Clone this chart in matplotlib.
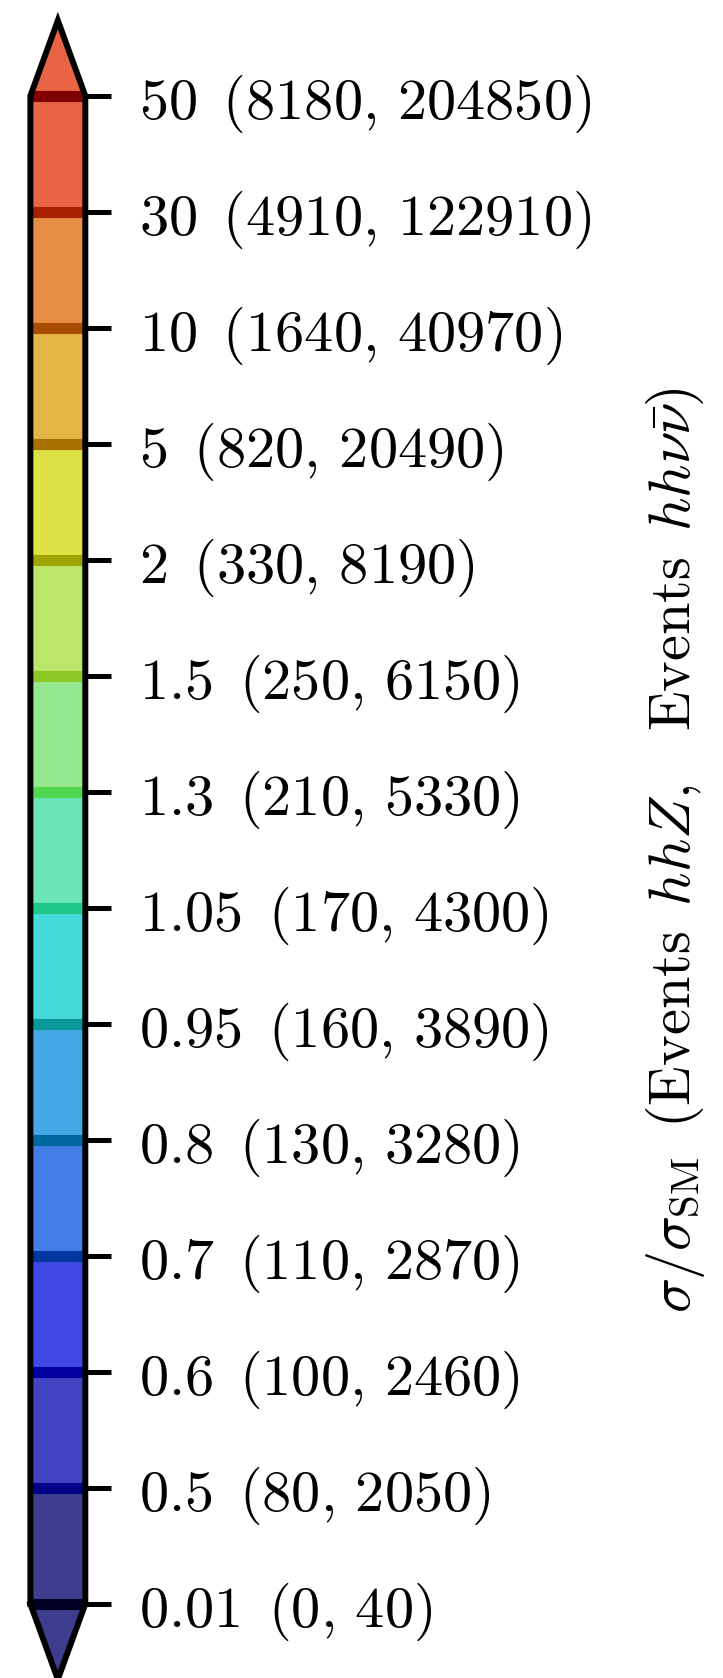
import matplotlib
matplotlib.use('Agg')
import matplotlib.pyplot as plt
from matplotlib.colors import ListedColormap, BoundaryNorm
from matplotlib.cm import ScalarMappable

plt.rcParams['font.family'] = 'serif'
plt.rcParams['font.serif'] = ['cmr10']
plt.rcParams['mathtext.fontset'] = 'cm'
plt.rcParams['axes.unicode_minus'] = False

# contour levels of sigma/sigma_SM and the matching event counts
levels = [0.01, 0.5, 0.6, 0.7, 0.8, 0.95, 1.05, 1.3, 1.5, 2, 5, 10, 30, 50]
events_hhz = [0, 80, 100, 110, 130, 160, 170, 210, 250, 330, 820, 1640, 4910, 8180]
events_hhnunu = [40, 2050, 2460, 2870, 3280, 3890, 4300, 5330, 6150, 8190,
                 20490, 40970, 122910, 204850]

# filled bands between levels (bottom -> top) and the contour line colours
fill_colors = ['#3e3e8e', '#4242c2', '#4149e4', '#427ee6', '#44a8e6',
               '#44dadc', '#6ce6b6', '#96e88e', '#bce66a', '#dee244',
               '#e4b646', '#e68e44', '#e86444']
line_colors = ['#000024', '#000088', '#0000a0', '#0038a0', '#0068a0',
               '#089898', '#20c88a', '#50d850', '#8cc828', '#a0a400',
               '#a87000', '#a84c00', '#a82000', '#800000']

# mathtext labels so the word spacing is explicit
tick_labels = [rf'$\mathrm{{{lev:g}}}\ \,\mathrm{{({z},}}\,\mathrm{{{n})}}$'
               for lev, z, n in zip(levels, events_hhz, events_hhnunu)]
cbar_label = (r'$\sigma/\sigma_{\mathrm{SM}}\ \,\mathrm{(Events}\ \,hhZ\mathrm{,}'
              r'\quad\mathrm{Events}\ \,hh\nu\bar{\nu}\mathrm{)}$')

cmap = ListedColormap(fill_colors)
cmap.set_under(fill_colors[0])
cmap.set_over(fill_colors[-1])
norm = BoundaryNorm(levels, cmap.N)

fig = plt.figure(figsize=(7.23, 16.78), dpi=100)
cax = fig.add_axes([0.042, -0.0008, 0.076, 0.9886])

cbar = fig.colorbar(ScalarMappable(norm=norm, cmap=cmap), cax=cax,
                    extend='both', ticks=levels, spacing='uniform')
cbar.add_lines(levels, line_colors, [8] * len(levels))
cbar.set_ticklabels(tick_labels)
cbar.outline.set_linewidth(4.3)
cbar.outline.set_edgecolor('black')
cax.tick_params(length=19, width=3.6, labelsize=42, pad=20)
cbar.set_label(cbar_label, fontsize=42, labelpad=37)

fig.savefig('out.png', dpi=100)
